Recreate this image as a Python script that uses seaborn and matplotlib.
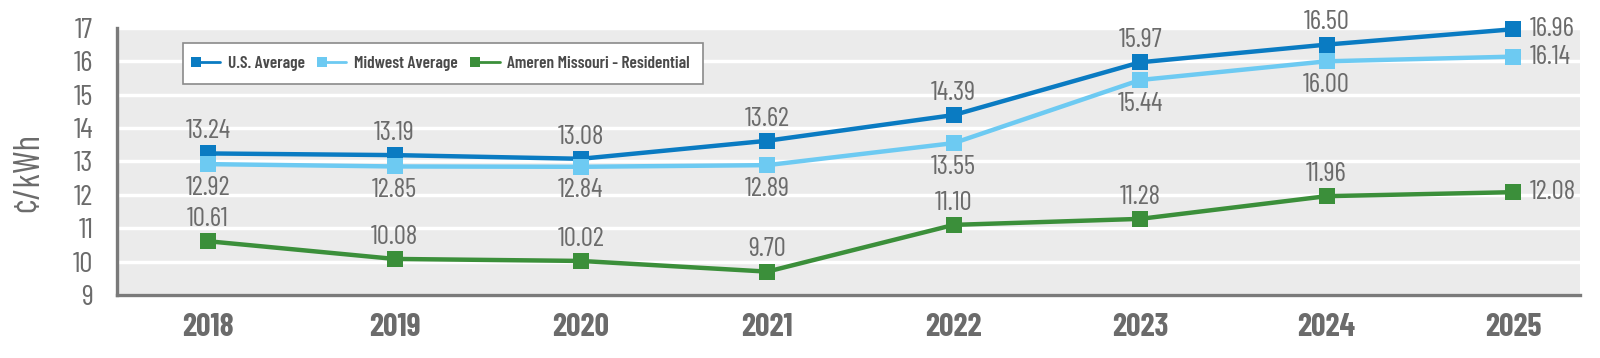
import matplotlib
matplotlib.use("Agg")
import matplotlib.pyplot as plt
from matplotlib import font_manager
from matplotlib.legend_handler import HandlerLine2D
from matplotlib.lines import Line2D
import seaborn as sns
import pandas as pd

years = [2018, 2019, 2020, 2021, 2022, 2023, 2024, 2025]
us_avg = [13.24, 13.19, 13.08, 13.62, 14.39, 15.97, 16.50, 16.96]
midwest_avg = [12.92, 12.85, 12.84, 12.89, 13.55, 15.44, 16.00, 16.14]
ameren = [10.61, 10.08, 10.02, 9.70, 11.10, 11.28, 11.96, 12.08]
series_names = ["U.S. Average", "Midwest Average", "Ameren Missouri - Residential"]
y_ticks = [9, 10, 11, 12, 13, 14, 15, 16, 17]

colors = {"U.S. Average": "#0a7bc2",
          "Midwest Average": "#6dcaf2",
          "Ameren Missouri - Residential": "#3b8f3a"}

sns.set_theme(style="white")
avail = {f.name for f in font_manager.fontManager.ttflist}
fam = next((f for f in ["Barlow Condensed", "Roboto Condensed", "DejaVu Sans"] if f in avail), "DejaVu Sans")
plt.rcParams["font.family"] = [fam, "DejaVu Sans"]

TXT = "#6b6b6b"
SP = "#7a7a7a"

df = pd.DataFrame({
    "year": years * 3,
    "value": us_avg + midwest_avg + ameren,
    "series": [series_names[0]] * 8 + [series_names[1]] * 8 + [series_names[2]] * 8,
})

fig = plt.figure(figsize=(16, 3.58), dpi=100)
ax = fig.add_axes([0.073, 0.176, 0.9145, 0.746])
ax.set_facecolor("#ebebeb")

sns.lineplot(data=df, x="year", y="value", hue="series", hue_order=series_names,
             palette=colors, style="series", markers={s: "s" for s in series_names},
             dashes=False, linewidth=3.2, markersize=12, markeredgewidth=0,
             ax=ax, legend=False)
for ln in ax.lines:
    ln.set_clip_on(False)
    ln.set_zorder(3)

ax.set_xlim(2017.51, 2025.36)
ax.set_ylim(9, 17)
ax.set_yticks(y_ticks)
ax.set_xticks(years)
ax.set_xticklabels([str(y) for y in years])
ax.yaxis.grid(True, color="white", linewidth=2.5)
ax.set_axisbelow(True)

for s in ["top", "right"]:
    ax.spines[s].set_visible(False)
for s in ["left", "bottom"]:
    ax.spines[s].set_color(SP)
    ax.spines[s].set_linewidth(2.4)

ax.tick_params(axis="y", direction="in", length=16, width=2.2, color=SP,
               labelsize=21, labelcolor=TXT, pad=17)
ax.tick_params(axis="x", direction="in", length=7, width=2.2, color=SP,
               labelsize=23, labelcolor=TXT, pad=13)
for lab in ax.get_xticklabels():
    lab.set_fontweight("bold")

ax.set_xlabel("")
ax.set_ylabel("¢/kWh", fontsize=26, color=TXT)
ax.yaxis.set_label_coords(-0.049, 0.46)

def label(vals, dy):
    for i, (x, v) in enumerate(zip(years, vals)):
        if i == len(years) - 1:
            ax.annotate(f"{v:.2f}", (x, v), xytext=(12, 0), textcoords="offset points",
                        ha="left", va="center", fontsize=19.5, color=TXT)
        else:
            ax.annotate(f"{v:.2f}", (x, v), xytext=(0, dy), textcoords="offset points",
                        ha="center", va="center", fontsize=19.5, color=TXT)

label(us_avg, 16)
label(midwest_avg, -17)
label(ameren, 16)

class LeftMarker(HandlerLine2D):
    def create_artists(self, *args, **kwargs):
        arts = super().create_artists(*args, **kwargs)
        for a in arts:
            a.set_markevery([0])
        return arts

handles = [Line2D([0], [0], color=colors[s], marker="s", markersize=6.5,
                  markeredgewidth=0, linewidth=2.0) for s in series_names]
leg = ax.legend(handles, series_names, ncol=3, loc="upper left",
                bbox_to_anchor=(0.045, 0.944), frameon=True, fancybox=False,
                edgecolor="#8a8a8a", framealpha=1,
                prop={"family": fam, "size": 12.5, "weight": 600},
                handlelength=1.4, handletextpad=0.45, columnspacing=1.0,
                borderpad=0.75, borderaxespad=0, handler_map={Line2D: LeftMarker()})
leg.get_frame().set_linewidth(1.2)
for t in leg.get_texts():
    t.set_color("#4a4a4a")

fig.savefig("out.png", dpi=100)
